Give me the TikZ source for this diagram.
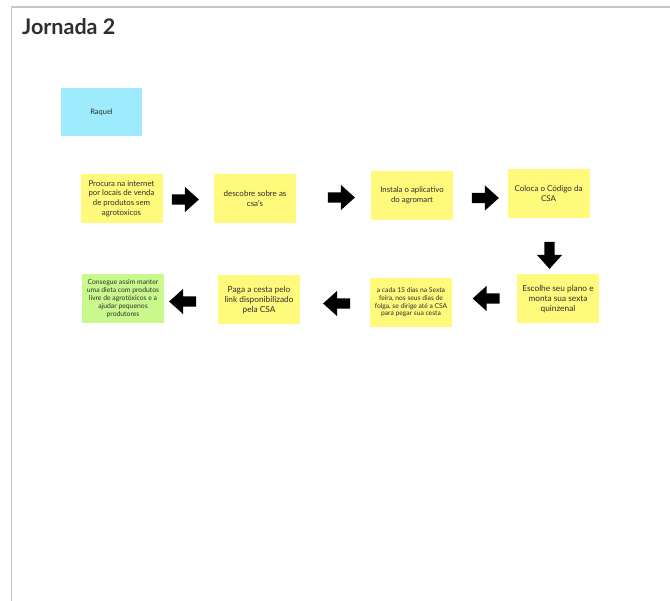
\documentclass[tikz,border=0pt]{standalone}
\usepackage{fontspec}
\setmainfont{Lato}
\usetikzlibrary{shapes.arrows}
\definecolor{sticky}{HTML}{FFF97C}
\definecolor{stickygreen}{HTML}{C9F98D}
\definecolor{stickyblue}{HTML}{9DEBFC}
\definecolor{txt}{HTML}{2E2E2E}
\definecolor{framegray}{HTML}{C6C6C6}
\tikzset{
  note/.style={fill=sticky, minimum width=82pt, minimum height=49pt, inner sep=1pt,
    align=center, text=txt, font=\fontsize{7.8}{9.7}\selectfont},
  blockarrow/.style={shape=single arrow, fill=black, draw=none, inner sep=5pt,
    single arrow head extend=7.5pt, single arrow head indent=0pt,
    single arrow tip angle=84, minimum height=27pt},
}
\begin{document}
\begin{tikzpicture}[x=1pt,y=-1pt]
\useasboundingbox (0,0) rectangle (670,601);
\fill[white] (0,0) rectangle (670,601);
\draw[framegray, line width=1.4pt] (11.5,601) -- (11.5,7) -- (670,7);
\node[anchor=base west, inner sep=0pt, text=txt, font=\fontsize{21.5}{26}\selectfont\bfseries] (title) at (22,35) {Jornada 2};

\node[note, fill=stickyblue, minimum width=81pt, minimum height=48pt, font=\fontsize{7.5}{9}\selectfont] (raquel) at (101.5,112) {Raquel};

\node[note] (b1) at (121.5,198.5) {Procura na internet\\por locais de venda\\de produtos sem\\agrotoxicos};
\node[note, font=\fontsize{8}{9.7}\selectfont] (b2) at (255,198.5) {descobre sobre as\\csa’s};
\node[note] (b3) at (412,195.5) {Instala o aplicativo\\do agromart};
\node[note, font=\fontsize{8}{9.7}\selectfont] (b4) at (548.5,193.5) {Coloca o Código da\\CSA};
\node[note, font=\fontsize{8.3}{10.2}\selectfont] (b5) at (558,299) {Escolhe seu plano e\\monta sua sexta\\quinzenal};
\node[note, font=\fontsize{6.7}{7.7}\selectfont] (b6) at (411,302.5) {a cada 15 dias na Sexta\\feira, nos seus dias de\\folga, se dirige até a CSA\\para pegar sua cesta};
\node[note, font=\fontsize{8.3}{10}\selectfont] (b7) at (259,300) {Paga a cesta pelo\\link disponibilizado\\pela CSA};
\node[note, fill=stickygreen, font=\fontsize{6.8}{8}\selectfont] (b8) at (123,298.5) {Consegue assim manter\\uma dieta com produtos\\livre de agrotóxicos e a\\ajudar pequenos\\produtores};

\node[blockarrow] (a1) at (182.5,199.5) {};
\node[blockarrow] (a2) at (338.5,197.5) {};
\node[blockarrow] (a3) at (482.5,198) {};
\node[blockarrow, shape border rotate=270] (a4) at (549.5,252.5) {};
\node[blockarrow, shape border rotate=180] (a5) at (489,298.5) {};
\node[blockarrow, shape border rotate=180] (a6) at (339.5,303.5) {};
\node[blockarrow, shape border rotate=180] (a7) at (185.5,301.5) {};
\end{tikzpicture}
\end{document}
